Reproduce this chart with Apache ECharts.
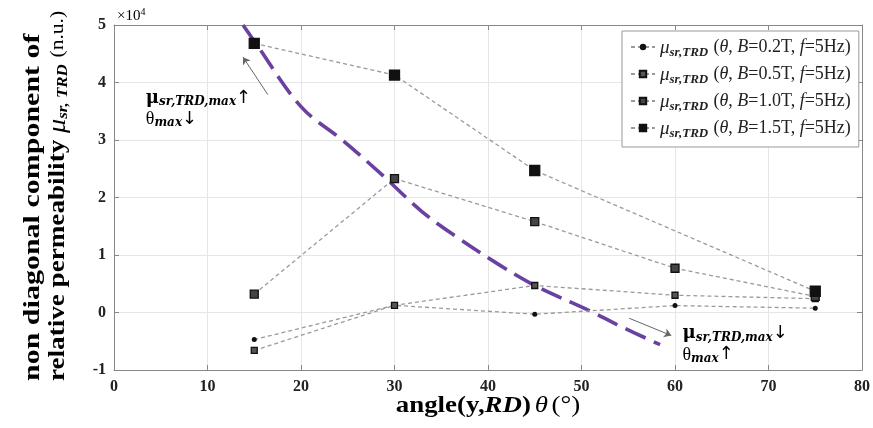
<!DOCTYPE html>
<html><head><meta charset="utf-8">
<script src="https://cdn.jsdelivr.net/npm/echarts@6/dist/echarts.min.js"></script>
<style>html,body{margin:0;padding:0;background:#fff}#c{width:873px;height:428px}</style>
</head><body><div id="c"></div>
<script>
const angles = [15, 30, 45, 60, 75];
const s02 = [-4700, 1250, -300, 1200, 750];
const s05 = [-6600, 1250, 4700, 3000, 2400];
const s10 = [3200, 23300, 15800, 7700, 2800];
const s15 = [46800, 41300, 24700, null, 3700];
const curveX = [13.8, 15, 20, 24.4, 28.5, 32.9, 36.5, 41, 45, 51, 53.8, 58.4];
const curveY = [50000, 47200, 35800, 30000, 24200, 17600, 13300, 8500, 4700, 200, -2100, -5600];
const xTicks = {min: 0, max: 80, interval: 10};
const yTicks = {min: -10000, max: 50000, interval: 10000};
const seriesNames = ['B=0.2T', 'B=0.5T', 'B=1.0T', 'B=1.5T'];

const serif = '"Liberation Serif", "DejaVu Serif", serif';
const chart = echarts.init(document.getElementById('c'));
const pair = (xs, ys) => xs.map((x, i) => [x, ys[i]]);
const grayLine = {color: '#9a9a9a', width: 1.3, type: [4, 3]};
function mk(name, vals, symbol, size, fill) {
  return {
    name: name, type: 'line', data: pair(angles, vals), connectNulls: true,
    symbol: symbol, symbolSize: size, lineStyle: grayLine,
    itemStyle: {color: fill, borderColor: '#111', borderWidth: symbol === 'circle' ? 0 : 1.3},
    z: 3
  };
}
const richLeg = {
  mu: {fontFamily: serif, fontStyle: 'italic', fontSize: 19, color: '#222', verticalAlign: 'middle'},
  sub: {fontFamily: serif, fontStyle: 'italic', fontWeight: 'bold', fontSize: 13, color: '#222', padding: [10, 2, 0, 0]},
  r: {fontFamily: serif, fontSize: 18, color: '#222'},
  i: {fontFamily: serif, fontSize: 18, fontStyle: 'italic', color: '#222'}
};
const option = {
  animation: false,
  backgroundColor: '#fff',
  grid: {left: 114, right: 7, top: 25, bottom: 58},
  xAxis: [{
    type: 'value', min: xTicks.min, max: xTicks.max, interval: xTicks.interval,
    axisLine: {onZero: false, lineStyle: {color: '#888'}},
    axisTick: {inside: true, length: 5, lineStyle: {color: '#888'}},
    splitLine: {lineStyle: {color: '#e6e6e6'}},
    axisLabel: {fontFamily: serif, fontWeight: 'bold', fontSize: 16, color: '#222', margin: 9}
  }, {
    type: 'value', position: 'top', min: xTicks.min, max: xTicks.max, interval: xTicks.interval,
    axisLine: {show: true, onZero: false, lineStyle: {color: '#888'}},
    axisTick: {inside: true, length: 5, lineStyle: {color: '#888'}},
    axisLabel: {show: false}, splitLine: {show: false}
  }],
  yAxis: [{
    type: 'value', min: yTicks.min, max: yTicks.max, interval: yTicks.interval,
    axisLine: {show: true, onZero: false, lineStyle: {color: '#888'}},
    axisTick: {show: true, inside: true, length: 5, lineStyle: {color: '#888'}},
    splitLine: {lineStyle: {color: '#e6e6e6'}},
    axisLabel: {fontFamily: serif, fontWeight: 'bold', fontSize: 16, color: '#222', margin: 8,
      formatter: v => String(v / 10000)}
  }, {
    type: 'value', position: 'right', min: yTicks.min, max: yTicks.max, interval: yTicks.interval,
    axisLine: {show: true, onZero: false, lineStyle: {color: '#888'}},
    axisTick: {show: true, inside: true, length: 5, lineStyle: {color: '#888'}},
    axisLabel: {show: false}, splitLine: {show: false}
  }],
  legend: {
    orient: 'vertical', left: 622, top: 31, width: 239,
    backgroundColor: '#fff', borderColor: '#999', borderWidth: 1,
    padding: [7, 8, 7, 8], itemGap: 6, itemWidth: 24, itemHeight: 8,
    data: seriesNames,
    formatter: n => '{mu|μ}{sub|sr,TRD} {r|(}{i|θ}{r|, }{i|B}{r|' + n.slice(1) + ', }{i|f}{r|=5Hz)}',
    textStyle: {rich: richLeg, height: 22}
  },
  series: [
    {
      name: 'fit', type: 'line', data: pair(curveX, curveY), smooth: 0.35, symbol: 'none',
      lineStyle: {color: '#6a40a0', width: 3.6, type: [22, 9]}, z: 2,
      markLine: {
        silent: true, symbol: ['none', 'arrow'], symbolSize: 7, label: {show: false},
        lineStyle: {color: '#666', width: 1, type: 'solid'},
        data: [
          [{coord: [16.45, 37900]}, {coord: [13.8, 44400]}],
          [{coord: [55.1, -1000]}, {coord: [59.6, -4000]}]
        ]
      }
    },
    mk(seriesNames[0], s02, 'circle', 5, '#111'),
    mk(seriesNames[1], s05, 'rect', 6, '#555'),
    mk(seriesNames[2], s10, 'rect', 8, '#444'),
    mk(seriesNames[3], s15, 'rect', 10, '#111')
  ]
};
chart.setOption(option);

const annRich = {
  mu: {fontFamily: '"DejaVu Serif", serif', fontWeight: 'bold', fontSize: 18, color: '#222'},
  sub: {fontFamily: '"DejaVu Serif", serif', fontWeight: 'bold', fontStyle: 'italic', fontSize: 12, color: '#222', padding: [8, 0, 0, 0]},
  ar: {fontFamily: '"DejaVu Sans", sans-serif', fontSize: 18, color: '#222'},
  th: {fontFamily: serif, fontSize: 18, color: '#222'}
};
const pL = chart.convertToPixel({gridIndex: 0}, [3.4, 37300]);
const pR = chart.convertToPixel({gridIndex: 0}, [60.8, -3700]);
const yTop = chart.convertToPixel({gridIndex: 0}, [0, 50000]);
const pBot = chart.convertToPixel({gridIndex: 0}, [40, -10000]);
function ann(p, a1, a2) {
  return [{
    type: 'text', x: p[0], y: p[1], z: 10,
    style: {text: '{mu|μ}{sub|sr,TRD,max}{ar|' + a1 + '}', rich: annRich, verticalAlign: 'middle'}
  }, {
    type: 'text', x: p[0], y: p[1] + 21, z: 10,
    style: {text: '{th|θ}{sub|max}{ar|' + a2 + '}', rich: annRich, verticalAlign: 'middle'}
  }];
}
const yRich = {
  b: {fontFamily: serif, fontWeight: 'bold', fontSize: 24, color: '#222'},
  mu: {fontFamily: serif, fontStyle: 'italic', fontSize: 25, color: '#222'},
  sub: {fontFamily: serif, fontStyle: 'italic', fontWeight: 'bold', fontSize: 15, color: '#222', padding: [11, 0, 0, 0]},
  r: {fontFamily: serif, fontSize: 19, color: '#222', padding: [0, 0, 0, 6]}
};
const xRich = {
  b: {fontFamily: serif, fontWeight: 'bold', fontSize: 24, color: '#222'},
  bi: {fontFamily: serif, fontWeight: 'bold', fontStyle: 'italic', fontSize: 24, color: '#222'},
  i: {fontFamily: serif, fontStyle: 'italic', fontSize: 24, color: '#222'},
  r: {fontFamily: serif, fontSize: 24, color: '#222'}
};
chart.setOption({
  graphic: [
    {type: 'text', x: yTop[0] + 3, y: yTop[1] - 9, z: 10,
      style: {text: '{a|×10}{s|4}', verticalAlign: 'middle', rich: {
        a: {fontFamily: serif, fontSize: 15, color: '#222'},
        s: {fontFamily: serif, fontSize: 10, color: '#222', padding: [0, 0, 8, 0]}}}},
    {type: 'text', x: 33, y: 381, rotation: Math.PI / 2, scaleX: 1.25, z: 10,
      style: {text: '{b|non diagonal component of}', rich: yRich, align: 'left', verticalAlign: 'middle'}},
    {type: 'text', x: 58, y: 381, rotation: Math.PI / 2, scaleX: 1.13, z: 10,
      style: {text: '{b|relative permeability }{mu|μ}{sub|sr, TRD}{r|(n.u.)}', rich: yRich, align: 'left', verticalAlign: 'middle'}},
    {type: 'text', x: pBot[0], y: pBot[1] + 36, scaleX: 1.12, z: 10,
      style: {text: '{b|angle(y,}{bi|RD}{b|)} {i|θ} {r|(°)}', rich: xRich, align: 'center', verticalAlign: 'middle'}}
  ].concat(ann(pL, '↑', '↓'), ann(pR, '↓', '↑'))
});
</script></body></html>
